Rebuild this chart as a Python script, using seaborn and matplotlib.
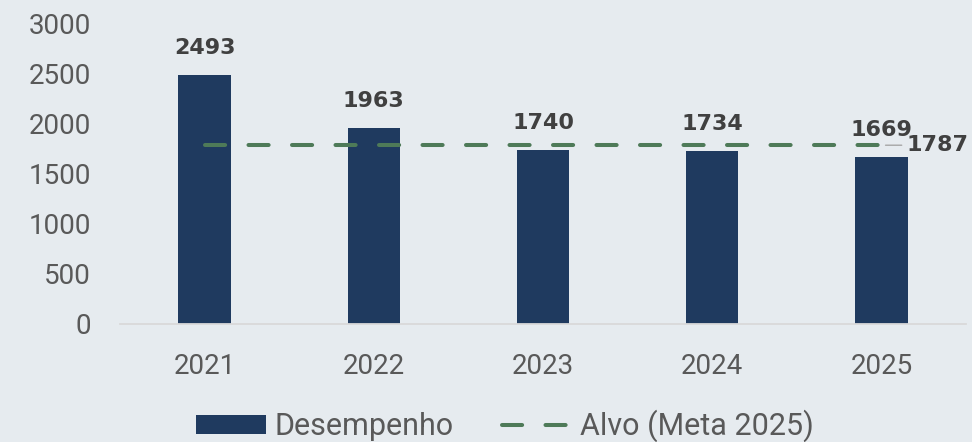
import numpy as np
import seaborn as sns
import matplotlib.pyplot as plt

# Dados
anos = ["2021", "2022", "2023", "2024", "2025"]
desempenho = [2493, 1963, 1740, 1734, 1669]
alvo = [1787, 1787, 1787, 1787, 1787]
rotulo_alvo = "1787"

fundo = "#E6EBEF"
cor_barra = "#1F3A5F"
cor_alvo = "#4E7A58"
cor_texto = "#595959"

sns.set_theme(style="white")
plt.rcParams['font.family'] = ['Roboto', 'DejaVu Sans']

fig = plt.figure(figsize=(9.72, 4.42), dpi=100, facecolor=fundo)
ax = fig.add_axes([0.1235, 0.267, 0.8703, 0.679])
ax.set_facecolor(fundo)

sns.barplot(x=anos, y=desempenho, color=cor_barra, saturation=1, width=0.31,
            linewidth=0, edgecolor="none", label="Desempenho", ax=ax, zorder=2)
pos = np.arange(len(anos))
ax.plot(pos, alvo, color=cor_alvo, lw=2.9, linestyle=(0, (5, 5.8)),
        dash_capstyle="round", label="Alvo (Meta 2025)", zorder=3)

# Rótulos
ax.bar_label(ax.containers[0], padding=12, fontsize=16, fontweight="bold",
             color="#404040", fontfamily="DejaVu Sans")
ax.annotate(rotulo_alvo, xy=(pos[-1], alvo[-1]), xytext=(18, 0),
            textcoords="offset points", va="center", ha="left", fontsize=16,
            fontweight="bold", color="#404040", fontfamily="DejaVu Sans",
            annotation_clip=False, zorder=5,
            arrowprops=dict(arrowstyle="-", color="#A6A6A6", lw=1,
                            shrinkA=1, shrinkB=3))

ax.set_ylim(0, 3000)
ax.set_xlim(-0.5, 4.5)
ax.set_yticks(range(0, 3001, 500))
ax.tick_params(axis="both", length=0, labelsize=20, labelcolor=cor_texto, pad=21)
for s in ["top", "right", "left"]:
    ax.spines[s].set_visible(False)
ax.spines["bottom"].set_color("#D9D9D9")
ax.spines["bottom"].set_linewidth(1.3)
ax.set_xlabel("")
ax.set_ylabel("")

h, l = ax.get_legend_handles_labels()
ordem = [l.index("Desempenho"), l.index("Alvo (Meta 2025)")]
h = [h[i] for i in ordem]
l = [l[i] for i in ordem]
if ax.get_legend():
    ax.get_legend().remove()
leg = fig.legend(h, l, loc="center", bbox_to_anchor=(505 / 972, 0.036), ncol=2,
                 frameon=False, fontsize=22, handlelength=2.3, handleheight=0.6,
                 handletextpad=0.25, columnspacing=1.6, labelcolor=cor_texto)

plt.savefig("out.png", dpi=100, facecolor=fundo)
